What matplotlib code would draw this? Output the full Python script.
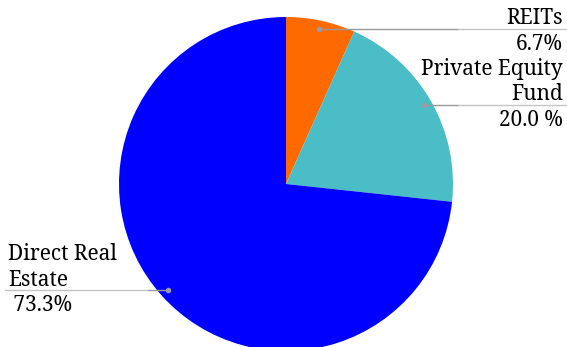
import numpy as np
import matplotlib
matplotlib.use("Agg")
import matplotlib.pyplot as plt

plt.rcParams['font.family'] = ['Noto Serif', 'DejaVu Serif']

labels = ["REITs", "Private Equity\nFund", "Direct Real\nEstate"]
pct_labels = ["6.7%", "20.0 %", " 73.3%"]
values = [6.7, 20.0, 73.3]
colors = ["#FF6A00", "#4ABDC7", "#0000FF"]

W, H = 567, 347
fig = plt.figure(figsize=(W / 100, H / 100), dpi=100)
ax = fig.add_axes([0, 0, 1, 1])

cx, cy, R = 286, H - 184, 167
ax.pie(values, colors=colors, startangle=90, counterclock=False,
       center=(cx, cy), radius=R, frame=True,
       wedgeprops=dict(linewidth=0))
ax.set_xlim(0, W)
ax.set_ylim(0, H)
ax.set_aspect("equal")
ax.axis("off")

# leader lines + labels
cum = np.cumsum([0] + values[:-1])
fs = 15
for i, (lab, pl, v) in enumerate(zip(labels, pct_labels, values)):
    mid = (cum[i] + v / 2) / 100 * 360
    ang = np.deg2rad(90 - mid)
    px = cx + 0.95 * R * np.cos(ang)
    py = cy + 0.95 * R * np.sin(ang)
    ax.plot([px], [py], "o", color="#9a9aa8", ms=3, zorder=5)
    if px > cx:
        ax.plot([px, 458], [py, py], color="#999999", lw=1, zorder=4)
        ax.plot([458, W], [py, py], color="#c4c4c4", lw=1, zorder=4)
        x0, ha = 563, "right"
    else:
        ax.plot([147, px], [py, py], color="#999999", lw=1, zorder=4)
        ax.plot([5, 147], [py, py], color="#c4c4c4", lw=1, zorder=4)
        x0, ha = 8, "left"
    ax.text(x0, py + 4.5, lab, ha=ha, va="baseline", fontsize=fs,
            linespacing=1.2)
    ax.text(x0, py - 21, pl, ha=ha, va="baseline", fontsize=fs)

plt.savefig("out.png", dpi=100)
